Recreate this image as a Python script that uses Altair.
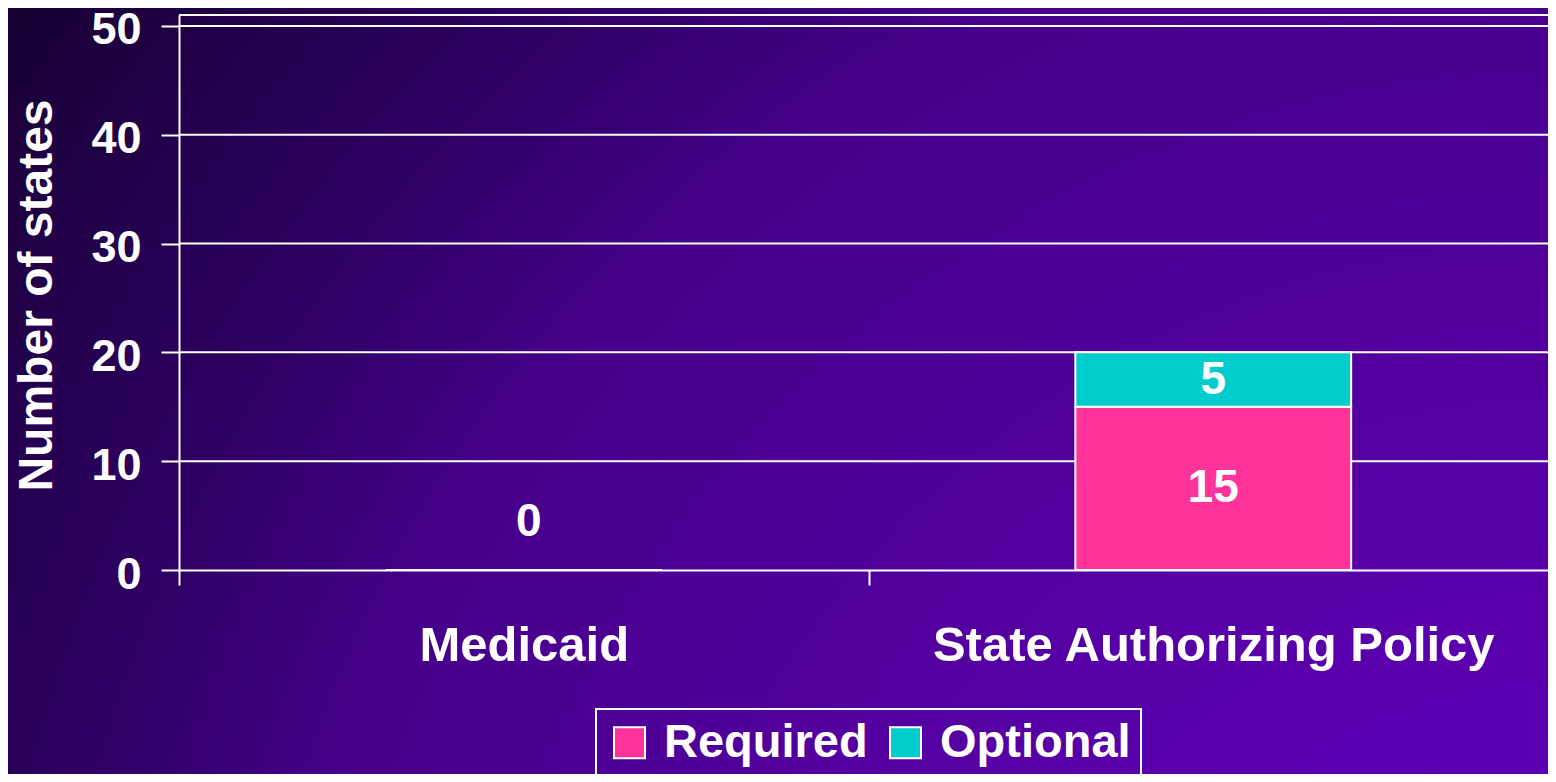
import altair as alt
import pandas as pd

categories = ["Medicaid", "State Authorizing Policy"]
series = ["Required", "Optional"]
required = [0, 15]
optional = [0, 5]
y_ticks = [0, 10, 20, 30, 40, 50]
y_title = "Number of states"
colors = ["#FF3399", "#00CCCC"]

W, H = 1379, 555
FONT = "Liberation Sans"

rows = []
for i, c in enumerate(categories):
    base = 0
    for k, (s, vals) in enumerate(zip(series, [required, optional])):
        v = vals[i]
        rows.append({"category": c, "series": s, "value": v, "order": k,
                     "mid": base + v / 2, "label": str(v)})
        base += v
bars_df = pd.DataFrame(rows)
seg_df = bars_df[bars_df["value"] > 0]
tot_df = pd.DataFrame({"category": categories,
                       "total": [r + o for r, o in zip(required, optional)]})
zero_df = tot_df[tot_df["total"] == 0].assign(label=lambda d: d["total"].astype(str))
grid_df = pd.DataFrame({"value": y_ticks[1:]})
bg_df = pd.DataFrame({"k": [0]})

yscale = alt.Scale(domain=[0, 51], nice=False, zero=True)
yaxis = alt.Axis(values=y_ticks, grid=False, title=y_title, zindex=1,
                 tickSize=18, tickWidth=2, domainWidth=2, tickColor="white",
                 domainColor="white", labelColor="white", labelFontSize=45,
                 labelFont=FONT, labelFontWeight="bold", labelPadding=20,
                 labelOffset=4,
                 titleFont=FONT, titleFontSize=48, titleFontWeight="bold",
                 titleColor="white", titleAngle=270, titleX=-142, titleY=280,
                 titleAlign="center", titleBaseline="middle")
xscale = alt.Scale(type="band", domain=categories, paddingInner=0, paddingOuter=0)
xaxis = alt.Axis(title=None, tickBand="extent", zindex=1, tickSize=15,
                 tickWidth=2, domainWidth=2, tickColor="white",
                 domainColor="white", labelColor="white", labelFontSize=49,
                 labelFont=FONT, labelFontWeight="bold", labelPadding=36,
                 labelAngle=0, labelLimit=800)

X = alt.X("category:N", scale=xscale, axis=xaxis)

bg = alt.Chart(bg_df).mark_rect(
    fill=alt.RadialGradient(
        gradient="radial",
        stops=[
            alt.GradientStop(offset=0, color="#6400c8"),
            alt.GradientStop(offset=0.33, color="#5800a8"),
            alt.GradientStop(offset=0.66, color="#46008a"),
            alt.GradientStop(offset=0.76, color="#32006a"),
            alt.GradientStop(offset=0.9, color="#22004a"),
            alt.GradientStop(offset=1, color="#170032"),
        ],
        x1=1, y1=1, r1=0, x2=1, y2=1, r2=1.25,
    )
).encode(x=alt.value(-171), x2=alt.value(W + 10), y=alt.value(-7),
         y2=alt.value(H + 212))

grid = alt.Chart(grid_df).mark_rule(color="white", strokeWidth=2).encode(
    y=alt.Y("value:Q", scale=yscale, axis=yaxis)
)

frame = alt.Chart(bg_df).mark_rule(color="white", strokeWidth=2).encode(
    y=alt.value(0), x=alt.value(0), x2=alt.value(W)
)

bars = alt.Chart(bars_df).mark_bar(
    width=alt.RelativeBandSize(0.4), stroke="white", strokeWidth=2
).encode(
    x=X,
    y=alt.Y("value:Q", scale=yscale, axis=yaxis, stack="zero"),
    color=alt.Color("series:N", scale=alt.Scale(domain=series, range=colors),
                    legend=alt.Legend(title=None, orient="none", legendX=417,
                                      legendY=694, direction="horizontal",
                                      symbolType="square", symbolSize=961,
                                      symbolStrokeColor="white",
                                      symbolStrokeWidth=2, symbolOpacity=1,
                                      labelFontSize=47, labelFont=FONT,
                                      labelFontWeight="bold", labelColor="white",
                                      labelLimit=600, labelOffset=11,
                                      columnPadding=14, padding=10,
                                      strokeColor="white")),
    order=alt.Order("order:Q"),
)

seg_text = alt.Chart(seg_df).mark_text(
    font=FONT, fontSize=46, fontWeight="bold", color="white", baseline="middle"
).encode(
    x=X, y=alt.Y("mid:Q", scale=yscale, axis=yaxis), text="label:N"
)

zero_text = alt.Chart(zero_df).mark_text(
    font=FONT, fontSize=46, fontWeight="bold", color="white", baseline="middle",
    dy=-48, dx=5
).encode(
    x=X, y=alt.Y("total:Q", scale=yscale, axis=yaxis), text="label:N"
)

chart = alt.layer(bg, grid, frame, bars, seg_text, zero_text).properties(
    width=W, height=H,
    autosize=alt.AutoSizeParams(type="none"),
    padding={"left": 171, "top": 7, "right": -10, "bottom": 204},
    background="#170032",
).configure_view(stroke=None).configure_legend(strokeWidth=2)

chart.save("out.html", embed_options={"renderer": "svg", "actions": False})
